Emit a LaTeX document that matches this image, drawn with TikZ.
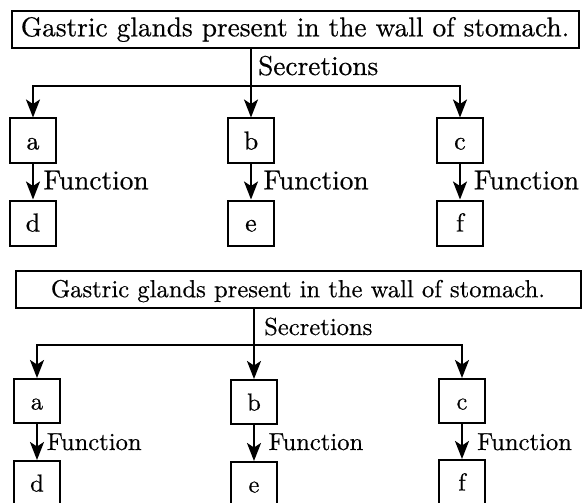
\documentclass[tikz,border=0pt]{standalone}
\usepackage{fontspec}
\setmainfont{lmroman10-regular}[Extension=.otf, FakeBold=0.5]
\usetikzlibrary{arrows.meta}
\newcommand{\fsTop}{\fontsize{27.3}{32}\selectfont}
\newcommand{\fsBot}{\fontsize{24.6}{29}\selectfont}
\newcommand{\fsTopL}{\fontsize{26}{30}\selectfont}
\newcommand{\fsBotL}{\fontsize{24.5}{28}\selectfont}
\tikzset{
  box/.style={draw, line width=2pt, minimum width=46pt, minimum height=45pt, inner sep=0pt, text height=17pt, text depth=0pt},
  mainbox/.style={draw, line width=2pt, inner sep=0pt},
  conn/.style={line width=2pt, line join=miter},
  arr/.style={conn, -{Stealth[length=18pt,width=14pt,inset=4.5pt]}},
  lbl/.style={inner sep=0pt, anchor=base west},
}
\begin{document}
\begin{tikzpicture}[x=1pt,y=-1pt]
\useasboundingbox (0,0) rectangle (582,503);
\clip (0,0) rectangle (582,503);
% ---------- top diagram ----------
\node[mainbox, minimum width=567pt, minimum height=37pt, font=\fsTop, text height=19pt, text depth=6.4pt] (G1) at (295,30) {Gastric glands present in the wall of stomach.};
\node[box, font=\fsTopL] (a1) at (33,141) {a};
\node[box, font=\fsTopL] (b1) at (251,141) {b};
\node[box, font=\fsTopL] (c1) at (460,141) {c};
\node[box, font=\fsTopL] (d1) at (33,223) {d};
\node[box, font=\fsTopL] (e1) at (251,223) {e};
\node[box, font=\fsTopL] (f1) at (460,223) {f};
\node[lbl, font=\fsTop] (s1) at (258,75) {Secretions};
\coordinate (h1) at (251,86);
\draw[arr] (G1.south -| b1.north) -- (b1.north);
\draw[arr] (h1) -| (a1.north);
\draw[arr] (h1) -| (c1.north);
\draw[arr] (a1.south) -- (d1.north);
\draw[arr] (b1.south) -- (e1.north);
\draw[arr] (c1.south) -- (f1.north);
\node[lbl, font=\fsTop] (fa1) at (43.3,189.3) {Function};
\node[lbl, font=\fsTop] (fb1) at (263.3,189.3) {Function};
\node[lbl, font=\fsTop] (fc1) at (473.7,189.3) {Function};
% ---------- bottom diagram ----------
\node[mainbox, minimum width=565pt, minimum height=37pt, font=\fsBot, text height=18pt, text depth=1.6pt] (G2) at (298,289) {Gastric glands present in the wall of stomach.};
\node[box, minimum height=44pt, font=\fsBotL] (a2) at (37,401) {a};
\node[box, minimum height=44pt, font=\fsBotL] (b2) at (254,402) {b};
\node[box, minimum height=44pt, font=\fsBotL] (c2) at (462,401) {c};
\node[box, minimum height=44pt, font=\fsBotL] (d2) at (37,483) {d};
\node[box, minimum height=44pt, font=\fsBotL] (e2) at (254,484) {e};
\node[box, minimum height=44pt, font=\fsBotL] (f2) at (462,482) {f};
\node[lbl, font=\fsBot] (s2) at (264,335) {Secretions};
\coordinate (h2) at (254,345);
\draw[arr] (G2.south -| b2.north) -- (b2.north);
\draw[arr] (h2) -| (a2.north);
\draw[arr] (h2) -| (c2.north);
\draw[arr] (a2.south) -- (d2.north);
\draw[arr] (b2.south) -- (e2.north);
\draw[arr] (c2.south) -- (f2.north);
\node[lbl, font=\fsBot] (fa2) at (46.7,450) {Function};
\node[lbl, font=\fsBot] (fb2) at (268.3,450) {Function};
\node[lbl, font=\fsBot] (fc2) at (477,450) {Function};
\end{tikzpicture}
\end{document}
